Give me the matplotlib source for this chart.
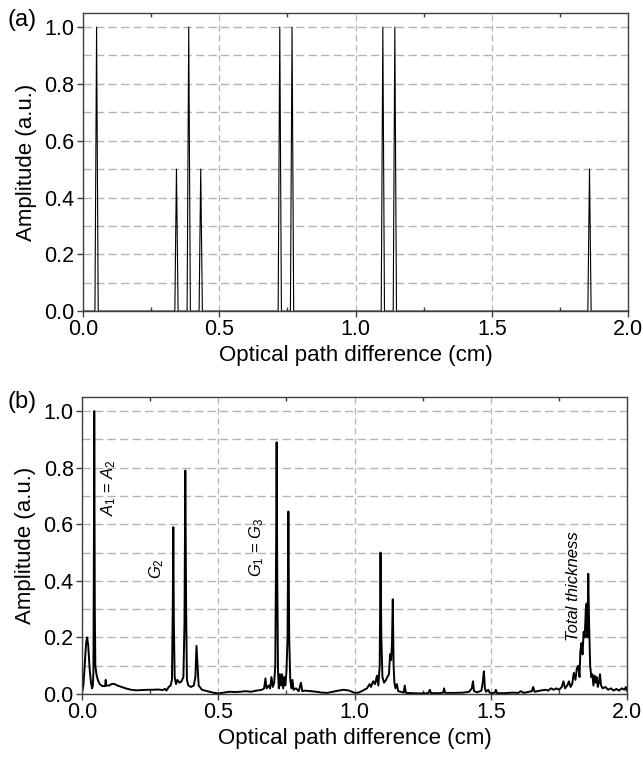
import numpy as np
import matplotlib
matplotlib.use("Agg")
import matplotlib.pyplot as plt
from matplotlib.ticker import MultipleLocator

plt.rcParams['font.family'] = ['Liberation Sans', 'DejaVu Sans']
plt.rcParams['mathtext.fontset'] = 'custom'
plt.rcParams['mathtext.rm'] = 'Liberation Sans'
plt.rcParams['mathtext.it'] = 'Liberation Sans:italic'

# (a) simulated peaks: position (cm), amplitude
peak_pos = [0.050, 0.343, 0.388, 0.432, 0.722, 0.767, 1.100, 1.144, 1.858]
peak_amp = [1.0, 0.5, 1.0, 0.5, 1.0, 1.0, 1.0, 1.0, 0.5]
peak_halfwidth = 0.006

meas_x = [0.000, 0.005, 0.010, 0.015, 0.019, 0.023, 0.028, 0.033, 0.037, 0.040,
          0.042, 0.044, 0.045, 0.047, 0.049, 0.053, 0.058, 0.065, 0.075, 0.085,
          0.087, 0.089, 0.100, 0.110, 0.120, 0.130, 0.145, 0.160, 0.180, 0.200,
          0.220, 0.240, 0.260, 0.280, 0.295, 0.305, 0.310, 0.318, 0.325, 0.330,
          0.333, 0.335, 0.337, 0.340, 0.345, 0.350, 0.358, 0.365, 0.372, 0.376,
          0.379, 0.382, 0.385, 0.390, 0.400, 0.410, 0.416, 0.420, 0.424, 0.428,
          0.440, 0.460, 0.480, 0.500, 0.520, 0.540, 0.560, 0.580, 0.600, 0.620,
          0.640, 0.660, 0.668, 0.673, 0.677, 0.685, 0.690, 0.695, 0.700, 0.705,
          0.709, 0.712, 0.714, 0.716, 0.719, 0.722, 0.726, 0.730, 0.734, 0.738,
          0.742, 0.746, 0.750, 0.754, 0.757, 0.760, 0.764, 0.768, 0.772, 0.776,
          0.785, 0.795, 0.803, 0.808, 0.820, 0.840, 0.860, 0.880, 0.900, 0.920,
          0.940, 0.960, 0.980, 1.000, 1.015, 1.030, 1.045, 1.055, 1.060, 1.068,
          1.075, 1.082, 1.087, 1.092, 1.095, 1.098, 1.102, 1.108, 1.115, 1.120,
          1.126, 1.130, 1.134, 1.137, 1.140, 1.143, 1.146, 1.150, 1.155, 1.160,
          1.170, 1.180, 1.184, 1.188, 1.210, 1.240, 1.270, 1.276, 1.280, 1.310,
          1.325, 1.328, 1.332, 1.370, 1.400, 1.420, 1.430, 1.434, 1.438, 1.450,
          1.465, 1.470, 1.474, 1.478, 1.482, 1.490, 1.495, 1.505, 1.515, 1.518,
          1.522, 1.550, 1.580, 1.600, 1.610, 1.620, 1.640, 1.650, 1.655, 1.660,
          1.680, 1.700, 1.710, 1.720, 1.730, 1.740, 1.750, 1.760, 1.766, 1.772,
          1.780, 1.786, 1.792, 1.798, 1.804, 1.810, 1.815, 1.820, 1.825, 1.828,
          1.832, 1.836, 1.840, 1.844, 1.848, 1.851, 1.854, 1.857, 1.860, 1.864,
          1.868, 1.872, 1.876, 1.880, 1.884, 1.888, 1.892, 1.896, 1.900, 1.904,
          1.910, 1.920, 1.930, 1.940, 1.950, 1.960, 1.970, 1.980, 1.990, 1.995,
          2.000]
meas_y = [0.005, 0.03, 0.10, 0.18, 0.20, 0.17, 0.09, 0.04, 0.02, 0.03,
          0.08, 0.60, 1.00, 0.30, 0.10, 0.07, 0.05, 0.035, 0.028, 0.028,
          0.05, 0.03, 0.030, 0.036, 0.035, 0.030, 0.025, 0.020, 0.015, 0.013,
          0.014, 0.015, 0.015, 0.016, 0.014, 0.018, 0.012, 0.025, 0.030, 0.05,
          0.30, 0.59, 0.25, 0.06, 0.035, 0.05, 0.04, 0.045, 0.06, 0.25,
          0.79, 0.30, 0.05, 0.03, 0.025, 0.03, 0.06, 0.17, 0.10, 0.03,
          0.015, 0.010, 0.005, 0.002, 0.005, 0.008, 0.007, 0.008, 0.010, 0.008,
          0.012, 0.015, 0.02, 0.055, 0.02, 0.03, 0.02, 0.06, 0.025, 0.04,
          0.10, 0.50, 0.89, 0.45, 0.08, 0.02, 0.07, 0.03, 0.07, 0.02,
          0.06, 0.03, 0.08, 0.20, 0.645, 0.20, 0.05, 0.02, 0.05, 0.015,
          0.02, 0.01, 0.04, 0.01, 0.012, 0.010, 0.008, 0.005, 0.004, 0.008,
          0.012, 0.015, 0.012, 0.004, 0.005, 0.012, 0.02, 0.035, 0.025, 0.045,
          0.035, 0.065, 0.03, 0.10, 0.50, 0.20, 0.06, 0.04, 0.05, 0.06,
          0.07, 0.14, 0.12, 0.18, 0.335, 0.10, 0.04, 0.02, 0.035, 0.01,
          0.008, 0.005, 0.03, 0.004, 0.003, 0.002, 0.003, 0.015, 0.003, 0.003,
          0.005, 0.02, 0.004, 0.004, 0.005, 0.008, 0.02, 0.045, 0.01, 0.006,
          0.012, 0.04, 0.08, 0.02, 0.008, 0.015, 0.005, 0.003, 0.005, 0.015,
          0.003, 0.003, 0.005, 0.004, 0.01, 0.004, 0.008, 0.01, 0.025, 0.008,
          0.012, 0.015, 0.012, 0.02, 0.015, 0.02, 0.015, 0.025, 0.045, 0.02,
          0.03, 0.045, 0.025, 0.035, 0.075, 0.05, 0.09, 0.10, 0.06, 0.15,
          0.18, 0.14, 0.22, 0.20, 0.30, 0.32, 0.20, 0.425, 0.25, 0.10,
          0.06, 0.07, 0.03, 0.065, 0.04, 0.06, 0.025, 0.04, 0.07, 0.03,
          0.02, 0.025, 0.015, 0.02, 0.012, 0.018, 0.012, 0.02, 0.015, 0.025,
          0.01]

# build the stick-like spectrum of panel (a) from the peak list
sim_x = [0.0]
sim_y = [0.0]
for p, a in zip(peak_pos, peak_amp):
    sim_x += [p - peak_halfwidth, p, p + peak_halfwidth]
    sim_y += [0.0, a, 0.0]
sim_x.append(2.0)
sim_y.append(0.0)

fig = plt.figure(figsize=(6.43, 7.57), dpi=100)
ax1 = fig.add_axes([0.129, 0.589, 0.848, 0.394])
ax2 = fig.add_axes([0.1275, 0.0832, 0.848, 0.3924])

spine_col = '#404040'
for ax in (ax1, ax2):
    ax.set_xlim(0, 2.0)
    ax.set_ylim(0, 1.05)
    ax.xaxis.set_major_locator(MultipleLocator(0.5))
    ax.xaxis.set_minor_locator(MultipleLocator(0.25))
    ax.yaxis.set_major_locator(MultipleLocator(0.2))
    ax.yaxis.set_minor_locator(MultipleLocator(0.1))
    ax.set_xticks([0.0, 0.5, 1.0, 1.5, 2.0])
    ax.set_xticklabels(['0.0', '0.5', '1.0', '1.5', '2.0'])
    ax.grid(True, axis='x', which='major', color='#b4b4b4', linestyle=(0, (5, 3)), linewidth=0.9)
    ax.grid(True, axis='y', which='both', color='#b4b4b4', linestyle=(0, (6, 3)), linewidth=1.0)
    ax.set_axisbelow(True)
    for s in ax.spines.values():
        s.set_color(spine_col)
        s.set_linewidth(1.0)
    ax.tick_params(axis='both', which='major', direction='out', length=4, width=1,
                   color=spine_col, labelsize=15.5, pad=2)
    ax.tick_params(axis='x', which='minor', direction='in', length=3, width=1,
                   color=spine_col, top=True, bottom=True)
    ax.tick_params(axis='y', which='minor', length=0)
    ax.set_xlabel('Optical path difference (cm)', fontsize=16, labelpad=3)
    ax.set_ylabel('Amplitude (a.u.)', fontsize=16, labelpad=5)

ax1.plot(sim_x, sim_y, color='black', linewidth=0.8)
ax2.plot(meas_x, meas_y, color='black', linewidth=1.4)

ax2.text(0.096, 0.73, r'$A_1$ = $A_2$', rotation=90, ha='center', va='center', fontsize=12)
ax2.text(0.274, 0.445, r'$G_2$', rotation=90, ha='center', va='center', fontsize=12)
ax2.text(0.64, 0.52, r'$G_1$ = $G_3$', rotation=90, ha='center', va='center', fontsize=12)
ax2.text(1.804, 0.38, 'Total thickness', rotation=90, ha='center', va='center',
         fontsize=12, style='italic')

fig.text(0.035, 0.973, '(a)', ha='center', va='center', fontsize=17)
fig.text(0.035, 0.469, '(b)', ha='center', va='center', fontsize=17)

fig.savefig('out.png', dpi=100)
